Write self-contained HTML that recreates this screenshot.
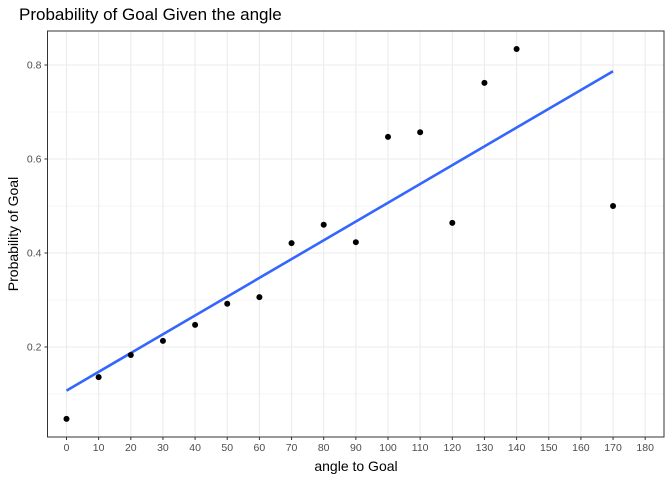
<!DOCTYPE html>
<html><head><meta charset="utf-8"><style>
body{margin:0;background:#fff;font-family:"Liberation Sans",Arial,sans-serif;}
</style></head><body>
<svg id="c" width="672" height="480" xmlns="http://www.w3.org/2000/svg">
<text x="19" y="20" font-size="17" fill="#000">Probability of Goal Given the angle</text>
<g id="grid"></g><g id="marks"></g><g id="axes"></g>
<text x="356" y="471" font-size="14" text-anchor="middle">angle to Goal</text>
<text transform="translate(18,234) rotate(-90)" font-size="14" text-anchor="middle">Probability of Goal</text>
</svg>
<script>
const angles=[0,10,20,30,40,50,60,70,80,90,100,110,120,130,140,170];
const probs=[0.047,0.136,0.183,0.213,0.247,0.292,0.306,0.421,0.46,0.423,0.647,0.657,0.464,0.762,0.834,0.5];
const xTicks=[0,10,20,30,40,50,60,70,80,90,100,110,120,130,140,150,160,170,180];
const yTicks=[0.2,0.4,0.6,0.8];
const yMinor=[0.1,0.3,0.5,0.7];
const L=47.5,R=664,T=31,B=437;
const xs=v=>66.5+v*3.215;
const ys=v=>347-(v-0.2)*470;
const NS="http://www.w3.org/2000/svg";
function mk(p,t,a){const e=document.createElementNS(NS,t);for(const k in a)e.setAttribute(k,a[k]);p.appendChild(e);return e;}
const g=document.getElementById('grid'),m=document.getElementById('marks'),ax=document.getElementById('axes');
yMinor.forEach(v=>{const e=mk(g,'line',{x1:L,x2:R,y1:ys(v),y2:ys(v),stroke:'#f0f0f0','stroke-width':0.8});

});
yTicks.forEach(v=>{const e=mk(g,'line',{x1:L,x2:R,y1:ys(v),y2:ys(v),stroke:'#ebebeb','stroke-width':1.1});


mk(ax,'line',{x1:L-3,x2:L,y1:ys(v),y2:ys(v),stroke:'#333'});
const t=mk(ax,'text',{x:L-6,y:ys(v)+3.5,'font-size':10.5,fill:'#4d4d4d','text-anchor':'end'});t.textContent=v.toFixed(1);

});
xTicks.forEach(v=>{const e=mk(g,'line',{x1:xs(v),x2:xs(v),y1:T,y2:B,stroke:'#ebebeb','stroke-width':1.1});


mk(ax,'line',{x1:xs(v),x2:xs(v),y1:B,y2:B+3,stroke:'#333'});
const t=mk(ax,'text',{x:xs(v),y:B+14,'font-size':10.5,fill:'#4d4d4d','text-anchor':'middle'});t.textContent=v;

});
const fr=mk(ax,'rect',{x:L,y:T,width:R-L,height:B-T,fill:'none',stroke:'#333','stroke-width':1});


// linear fit
const n=angles.length,mx=angles.reduce((a,b)=>a+b)/n,my=probs.reduce((a,b)=>a+b)/n;
let sxy=0,sxx=0;angles.forEach((x,i)=>{sxy+=(x-mx)*(probs[i]-my);sxx+=(x-mx)**2;});
const b=sxy/sxx,a=my-b*mx,x0=Math.min(...angles),x1=Math.max(...angles);
const ln=mk(m,'line',{x1:xs(x0),y1:ys(a+b*x0),x2:xs(x1),y2:ys(a+b*x1),stroke:'#3366ff','stroke-width':2.6});


angles.forEach((x,i)=>{const c=mk(m,'circle',{cx:xs(x),cy:ys(probs[i]),r:3,fill:'#000'});

});
</script>
</body></html>
